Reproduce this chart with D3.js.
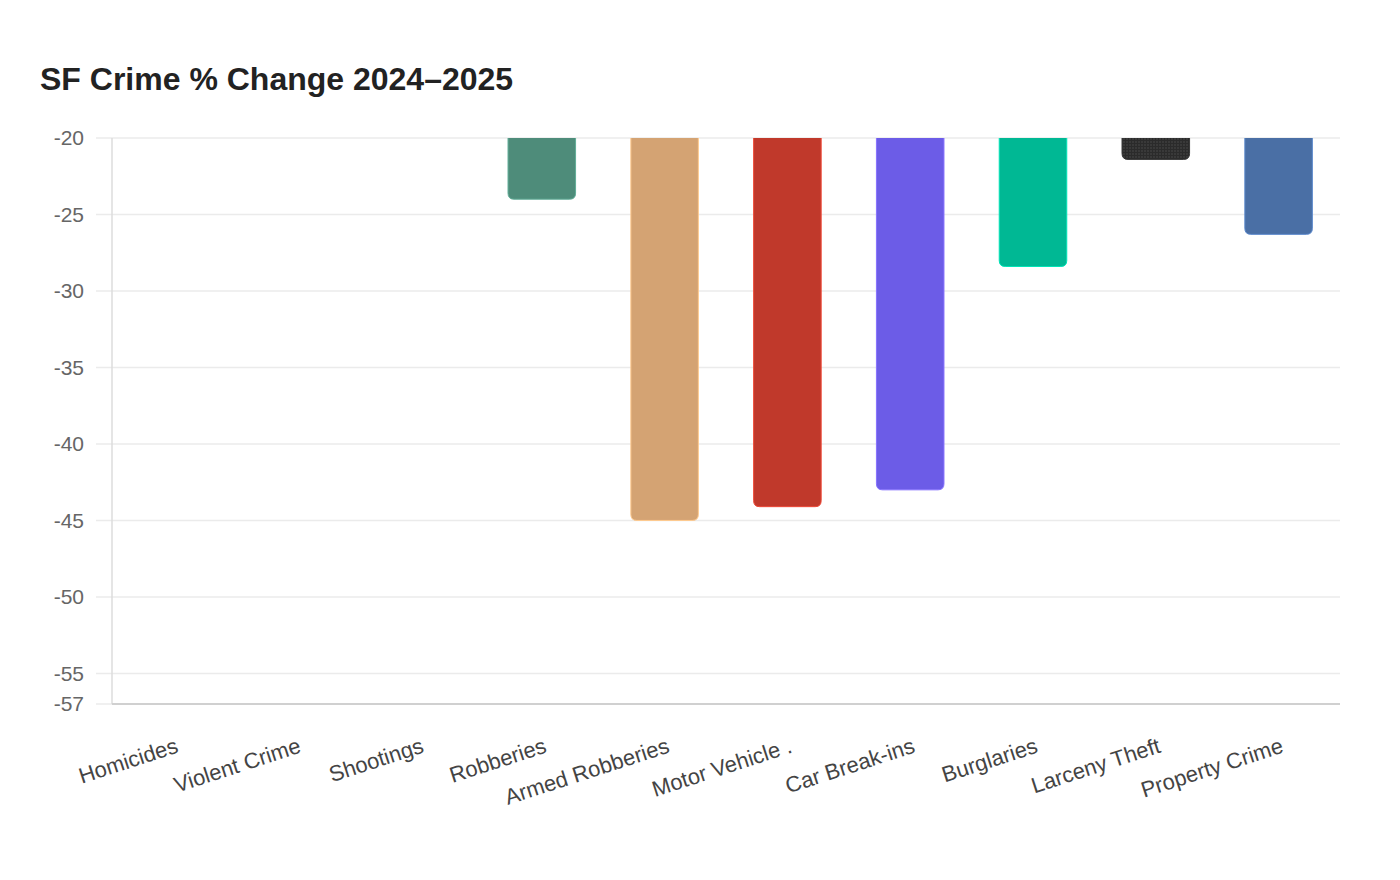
<!DOCTYPE html>
<html>
<head>
<meta charset="utf-8">
<script src="https://cdn.jsdelivr.net/npm/d3@7"></script>
<style>
  body { margin: 0; background: #fff; font-family: "Liberation Sans", Arial, sans-serif; }
</style>
</head>
<body>
<div id="chart"></div>
<script>
// categories and % change values (first three sit above the visible range)
var categories = ["Homicides", "Violent Crime", "Shootings", "Robberies", "Armed Robberies",
  "Motor Vehicle .", "Car Break-ins", "Burglaries", "Larceny Theft", "Property Crime"];
var changes = [null, null, null, -24.0, -45.0, -44.1, -43.0, -28.4, -21.4, -26.3];
var colors = ["#5b8c85", "#8c6bb1", "#e17055", "#4e8c7a", "#d4a373",
  "#c0392b", "#6c5ce7", "#00b894", "#2d2d2d", "#4a6fa5"];
var yTicks = [-20, -25, -30, -35, -40, -45, -50, -55, -57];

var W = 1400, H = 880;
var margin = {top: 138, right: 60, bottom: 176, left: 112},
    width = W - margin.left - margin.right,
    height = H - margin.top - margin.bottom;

var svgRoot = d3.select("#chart")
    .append("svg")
    .attr("width", W)
    .attr("height", H);

// title
svgRoot.append("text")
    .attr("x", 40)
    .attr("y", 90)
    .style("font-size", "32px")
    .style("font-weight", "bold")
    .attr("fill", "#222")
    .text("SF Crime % Change 2024\u20132025");

var defs = svgRoot.append("defs");
defs.append("clipPath").attr("id", "plotClip")
    .append("rect").attr("x", 0).attr("y", 0).attr("width", width).attr("height", height);

// dotted texture for larceny
var pat = defs.append("pattern")
    .attr("id", "dots")
    .attr("width", 3).attr("height", 3)
    .attr("patternUnits", "userSpaceOnUse");
pat.append("rect").attr("width", 3).attr("height", 3).attr("fill", "#2b2b2b");
pat.append("circle").attr("cx", 1).attr("cy", 1).attr("r", 0.8).attr("fill", "#4a4a4a");

var svg = svgRoot.append("g")
    .attr("transform", `translate(${margin.left},${margin.top})`);

var xScale = d3.scaleBand()
    .domain(categories)
    .range([0, width])
    .paddingInner(0.45)
    .paddingOuter(0.225);

var yScale = d3.scaleLinear()
    .domain([-57, -20])
    .range([height, 0]);

// grid lines
svg.append("g")
    .selectAll("line")
    .data(yTicks)
    .enter()
    .append("line")
    .attr("x1", -16)
    .attr("x2", width)
    .attr("y1", d => yScale(d))
    .attr("y2", d => yScale(d))
    .attr("stroke", "#ebebeb")
    .attr("stroke-width", 1.5);

// y tick labels (plain hyphen minus)
var yAxis = svg.append("g")
    .call(d3.axisLeft(yScale).tickValues(yTicks).tickSize(0).tickPadding(28).tickFormat(d => String(d)));
yAxis.select(".domain").remove();
yAxis.selectAll("text")
    .style("font-size", "21px")
    .style("font-family", "Liberation Sans, Arial, sans-serif")
    .attr("fill", "#666");

// axis lines
svg.append("line")
    .attr("x1", 0).attr("x2", 0).attr("y1", 0).attr("y2", height)
    .attr("stroke", "#dcdcdc").attr("stroke-width", 1.5);
svg.append("line")
    .attr("x1", 0).attr("x2", width).attr("y1", height).attr("y2", height)
    .attr("stroke", "#d0d0d0").attr("stroke-width", 2);

// bars: from 0 down to value, bottom corners rounded, clipped to plot
function barPath(x, y0, y1, w, r) {
    return `M${x},${y0}V${y1 - r}Q${x},${y1} ${x + r},${y1}H${x + w - r}Q${x + w},${y1} ${x + w},${y1 - r}V${y0}Z`;
}

var barData = categories.map((c, i) => ({cat: c, v: changes[i], color: colors[i]}))
    .filter(d => d.v !== null);

svg.append("g")
    .attr("clip-path", "url(#plotClip)")
    .selectAll("path")
    .data(barData)
    .enter()
    .append("path")
    .attr("d", d => barPath(xScale(d.cat), yScale(0), yScale(d.v), xScale.bandwidth(), 6))
    .attr("fill", d => d.cat === "Larceny Theft" ? "url(#dots)" : d.color)
    .attr("stroke", d => d3.color(d.color).brighter(0.6))
    .attr("stroke-width", 1);

// x labels, rotated
svg.append("g")
    .selectAll("text")
    .data(categories)
    .enter()
    .append("text")
    .attr("transform", d => `translate(${xScale(d) + xScale.bandwidth() / 2 + 6},${height + 48}) rotate(-18)`)
    .attr("text-anchor", "end")
    .style("font-size", "22px")
    .attr("fill", "#444")
    .text(d => d);
</script>
</body>
</html>
